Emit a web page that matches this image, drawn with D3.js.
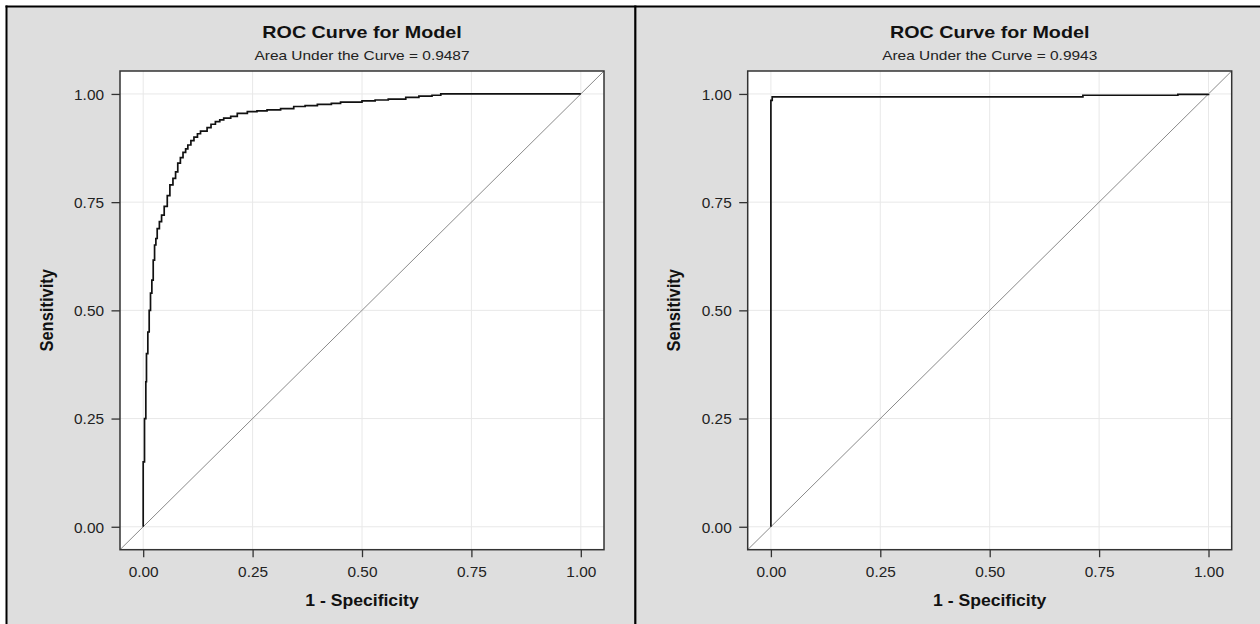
<!DOCTYPE html>
<html>
<head>
<meta charset="utf-8">
<script src="https://cdn.jsdelivr.net/npm/d3@7"></script>
<style>
  html, body { margin: 0; padding: 0; background: #ffffff; }
  svg { display: block; font-family: "Liberation Sans", Arial, sans-serif; }
</style>
</head>
<body>
<svg id="chart" width="1260" height="624"></svg>
<script>
// ---------------- data ----------------
const chartTitles = ["ROC Curve for Model", "ROC Curve for Model"];
const aucValues = [0.9487, 0.9943];
const xAxisLabel = "1 - Specificity";
const yAxisLabel = "Sensitivity";
const tickValues = [0, 0.25, 0.5, 0.75, 1];
const tickLabels = ["0.00", "0.25", "0.50", "0.75", "1.00"];

// Left model: (1 - specificity, sensitivity); at each FPR the TPR rises to the given value
const leftFpr = [0, 0, 0.003, 0.006, 0.0075, 0.0106, 0.0137, 0.0167, 0.0198, 0.0229, 0.026, 0.029, 0.032,
  0.037, 0.042, 0.048, 0.055, 0.061, 0.068, 0.074, 0.079, 0.085, 0.091, 0.097, 0.102, 0.109, 0.116, 0.124,
  0.131, 0.146, 0.155, 0.165, 0.175, 0.184, 0.200, 0.215, 0.238, 0.260, 0.283, 0.314, 0.344, 0.370, 0.398,
  0.430, 0.451, 0.500, 0.530, 0.560, 0.600, 0.630, 0.660, 0.680, 1.0];
const leftTpr = [0, 0.15, 0.25, 0.335, 0.40, 0.45, 0.50, 0.54, 0.57, 0.616, 0.651, 0.666, 0.689,
  0.705, 0.72, 0.74, 0.765, 0.79, 0.805, 0.82, 0.84, 0.853, 0.865, 0.873, 0.882, 0.892, 0.90, 0.908,
  0.914, 0.922, 0.93, 0.936, 0.94, 0.944, 0.948, 0.955, 0.959, 0.961, 0.963, 0.966, 0.971, 0.973, 0.976,
  0.978, 0.981, 0.984, 0.986, 0.988, 0.992, 0.995, 0.997, 1.0, 1.0];

// Right model
const rightFpr = [0, 0, 0.003, 0.713, 0.930, 1.0];
const rightTpr = [0, 0.985, 0.993, 0.997, 0.999, 1.0];

// ---------------- layout ----------------
const W = 1260, H = 624;
const plotW = 484, plotH = 478.7, plotTop = 71;
const panelPlotLeft = [120, 747.7];
const domainLo = -0.053, domainHi = 1.053;

const svg = d3.select("#chart");

// outer white margin + gray backgrounds
svg.append("rect").attr("x", 0).attr("y", 0).attr("width", W).attr("height", H).attr("fill", "#ffffff");
svg.append("rect").attr("x", 6.5).attr("y", 6.5).attr("width", W).attr("height", H).attr("fill", "#dedede");
// borders
svg.append("line").attr("x1", 5.5).attr("x2", W).attr("y1", 6.5).attr("y2", 6.5)
  .attr("stroke", "#000").attr("stroke-width", 2);
svg.append("line").attr("x1", 6.5).attr("x2", 6.5).attr("y1", 5.5).attr("y2", H)
  .attr("stroke", "#000").attr("stroke-width", 2);
svg.append("line").attr("x1", 635.3).attr("x2", 635.3).attr("y1", 5.5).attr("y2", H)
  .attr("stroke", "#000").attr("stroke-width", 2.2);

const datasets = [
  leftFpr.map((x, i) => ({ x, y: leftTpr[i] })),
  rightFpr.map((x, i) => ({ x, y: rightTpr[i] }))
];

const x = d3.scaleLinear().domain([domainLo, domainHi]).range([0, plotW]);
const y = d3.scaleLinear().domain([domainLo, domainHi]).range([plotH, 0]);
const fmtLabel = v => tickLabels[tickValues.indexOf(v)];

datasets.forEach((data, p) => {
  const left = panelPlotLeft[p];
  const cx = left + plotW / 2;

  // title + subtitle
  svg.append("text")
    .attr("transform", `translate(${cx},38) scale(1.16,1)`)
    .attr("text-anchor", "middle").attr("font-size", 17).attr("font-weight", "bold")
    .attr("fill", "#111").text(chartTitles[p]);
  svg.append("text")
    .attr("transform", `translate(${cx},60) scale(1.19,1)`)
    .attr("text-anchor", "middle").attr("font-size", 13)
    .attr("fill", "#222").text("Area Under the Curve = " + aucValues[p].toFixed(4));

  const g = svg.append("g").attr("transform", `translate(${left},${plotTop})`);

  // plot background
  g.append("rect").attr("width", plotW).attr("height", plotH).attr("fill", "#ffffff");

  // grid
  g.selectAll(".vg").data(tickValues).join("line")
    .attr("x1", d => x(d)).attr("x2", d => x(d)).attr("y1", 0).attr("y2", plotH)
    .attr("stroke", "#e8e8e8").attr("stroke-width", 1);
  g.selectAll(".hg").data(tickValues).join("line")
    .attr("y1", d => y(d)).attr("y2", d => y(d)).attr("x1", 0).attr("x2", plotW)
    .attr("stroke", "#e8e8e8").attr("stroke-width", 1);

  // diagonal reference
  g.append("line")
    .attr("x1", x(domainLo)).attr("y1", y(domainLo))
    .attr("x2", x(domainHi)).attr("y2", y(domainHi))
    .attr("stroke", "#8a8a8a").attr("stroke-width", 1);

  // ROC curve
  const line = d3.line().x(d => x(d.x)).y(d => y(d.y)).curve(d3.curveStepAfter);
  g.append("path").datum(data).attr("d", line)
    .attr("fill", "none").attr("stroke", "#111").attr("stroke-width", 1.7)
    .attr("stroke-linejoin", "miter");

  // axes
  const xa = g.append("g").attr("transform", `translate(0,${plotH})`)
    .call(d3.axisBottom(x).tickValues(tickValues).tickSize(7.5).tickFormat(fmtLabel));
  const ya = g.append("g")
    .call(d3.axisLeft(y).tickValues(tickValues).tickSize(8.5).tickFormat(fmtLabel));
  [xa, ya].forEach(a => {
    a.select(".domain").remove();
    a.selectAll(".tick line").attr("stroke", "#333").attr("stroke-width", 1.3);
    a.selectAll(".tick text").attr("font-size", 14).attr("fill", "#222")
      .attr("font-family", "Liberation Sans, Arial, sans-serif");
  });
  xa.selectAll(".tick text").attr("y", 0).attr("dy", 0)
    .attr("transform", "translate(0,27.6) scale(1.1,1)");
  ya.selectAll(".tick text").attr("x", 0).attr("dy", 0)
    .attr("transform", "translate(-16,5.3) scale(1.1,1)");

  // frame
  g.append("rect").attr("width", plotW).attr("height", plotH)
    .attr("fill", "none").attr("stroke", "#333").attr("stroke-width", 1.5);

  // axis labels
  svg.append("text")
    .attr("transform", `translate(${cx},606) scale(1.1,1)`)
    .attr("text-anchor", "middle").attr("font-size", 16).attr("font-weight", "bold")
    .attr("fill", "#111").text(xAxisLabel);
  svg.append("text")
    .attr("transform", `translate(${left - 67.5},${plotTop + plotH / 2}) rotate(-90) scale(1,1.12)`)
    .attr("text-anchor", "middle").attr("font-size", 16.5).attr("font-weight", "bold")
    .attr("fill", "#111").text(yAxisLabel);
});
</script>
</body>
</html>
